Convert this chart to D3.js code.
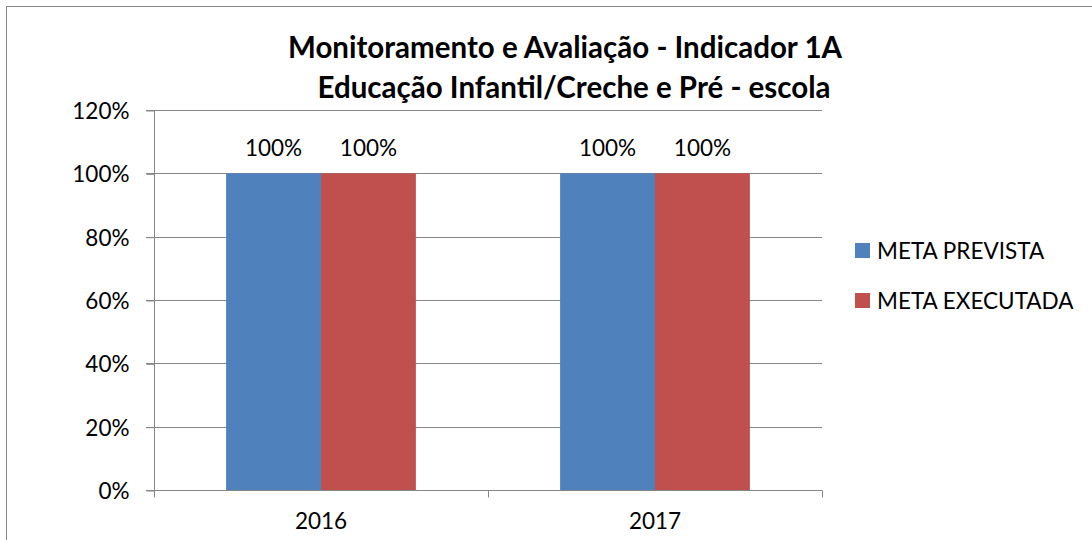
<!DOCTYPE html>
<html>
<head>
<meta charset="utf-8">
<script src="https://cdn.jsdelivr.net/npm/d3@7"></script>
<style>
  body { margin: 0; background: #fff; }
  text { font-family: Lato, "Open Sans", sans-serif; fill: #000; }
</style>
</head>
<body>
<svg id="chart"></svg>
<script>
// Data
const categories = ['2016', '2017'];
const seriesNames = ['META PREVISTA', 'META EXECUTADA'];
const metaPrevista = [1.0, 1.0];
const metaExecutada = [1.0, 1.0];
const yTicks = [0, 0.2, 0.4, 0.6, 0.8, 1.0, 1.2];
const titleLines = ['Monitoramento e Avaliação - Indicador 1A', 'Educação Infantil/Creche e Pré - escola'];

const colors = ['#4F81BD', '#C0504D'];
const seriesValues = [metaPrevista, metaExecutada];

let width = 1092;
let height = 540;
let plot = {left: 154, right: 822, top: 110, bottom: 490};
let fs = '22.5px';

let svg = d3.select('#chart').attr('width', width).attr('height', height);

// chart border
svg.append('rect')
    .attr('x', 6.5).attr('y', 6.5)
    .attr('width', 1100).attr('height', 560)
    .attr('fill', 'none')
    .attr('stroke', '#868686');

let x0 = d3.scaleBand().domain(categories).range([plot.left, plot.right]);
let x1 = d3.scaleBand().domain(seriesNames).range([0, x0.bandwidth()]).paddingOuter(0.76);
let yScale = d3.scaleLinear().domain([0, 1.2]).range([plot.bottom, plot.top]);

// gridlines
svg.append('g')
    .selectAll('line')
    .data(yTicks)
    .enter()
    .append('line')
    .attr('x1', plot.left - 8)
    .attr('x2', plot.right)
    .attr('y1', d => Math.round(yScale(d)) + 0.5)
    .attr('y2', d => Math.round(yScale(d)) + 0.5)
    .attr('stroke', '#868686');

// y axis
let yAxis = d3.axisLeft(yScale)
    .tickValues(yTicks)
    .tickFormat(d3.format('.0%'))
    .tickSize(8)
    .tickPadding(17);

svg.append('g')
    .attr('transform', 'translate(' + (plot.left + 0.5) + ',0.5)')
    .call(yAxis)
    .call(g => g.selectAll('line, path').attr('stroke', '#868686'))
    .call(g => g.select('.domain').attr('d', 'M0,' + (plot.top - 0.5) + 'V' + (plot.bottom - 0.5)))
    .call(g => g.selectAll('text').style('font-size', fs).attr('dy', '0.35em'));

// bars
let groups = svg.append('g')
    .selectAll('g')
    .data(categories)
    .enter()
    .append('g')
    .attr('transform', d => 'translate(' + x0(d) + ',0)');

groups.selectAll('rect')
    .data((d, i) => seriesNames.map((s, j) => ({series: s, value: seriesValues[j][i], color: colors[j]})))
    .enter()
    .append('rect')
    .attr('x', d => x1(d.series))
    .attr('width', x1.bandwidth())
    .attr('y', d => yScale(d.value))
    .attr('height', d => yScale(0) - yScale(d.value))
    .attr('fill', d => d.color);

groups.selectAll('text')
    .data((d, i) => seriesNames.map((s, j) => ({series: s, value: seriesValues[j][i]})))
    .enter()
    .append('text')
    .attr('x', d => x1(d.series) + x1.bandwidth() / 2)
    .attr('y', d => yScale(d.value) - 25)
    .attr('text-anchor', 'middle')
    .attr('dy', '0.35em')
    .style('font-size', fs)
    .text(d => d3.format('.0%')(d.value));

// x axis
let xAxis = d3.axisBottom(x0).tickSize(0).tickPadding(23);
let xg = svg.append('g')
    .attr('transform', 'translate(0,' + (plot.bottom + 0.5) + ')')
    .call(xAxis);
xg.select('.domain').attr('stroke', '#868686').attr('d', 'M' + plot.left + ',0H' + plot.right);
xg.selectAll('text').style('font-size', fs);
xg.selectAll('.boundary')
    .data([plot.left, x0(categories[1]), plot.right])
    .enter()
    .append('line')
    .attr('x1', d => d + 0.5).attr('x2', d => d + 0.5)
    .attr('y1', 0).attr('y2', 7)
    .attr('stroke', '#868686');

// title
svg.append('g')
    .selectAll('text')
    .data(titleLines)
    .enter()
    .append('text')
    .attr('x', (d, i) => i === 0 ? 565 : 574)
    .attr('y', (d, i) => 48 + i * 40)
    .attr('dy', '0.35em')
    .attr('text-anchor', 'middle')
    .style('font-size', '29.5px')
    .style('font-weight', 'bold')
    .text(d => d);

// legend
let legend = svg.append('g')
    .selectAll('g')
    .data(seriesNames)
    .enter()
    .append('g')
    .attr('transform', (d, i) => 'translate(855,' + (243 + i * 50) + ')');

legend.append('rect')
    .attr('width', 15).attr('height', 15)
    .attr('fill', (d, i) => colors[i]);

legend.append('text')
    .attr('x', 22)
    .attr('y', 8)
    .attr('dy', '0.35em')
    .style('font-size', fs)
    .text(d => d);
</script>
</body>
</html>
